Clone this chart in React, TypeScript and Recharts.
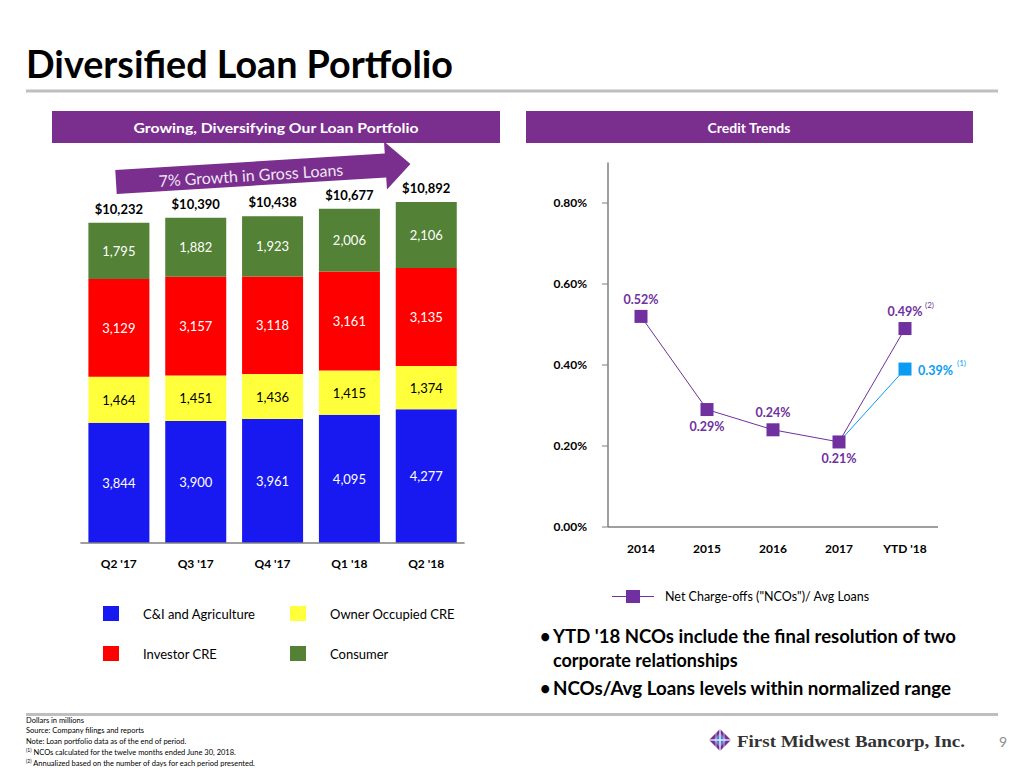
import React from 'react';
import { BarChart, Bar, XAxis, YAxis, LabelList, LineChart, Line } from 'recharts';

// ---------- Data ----------
const quarters = ["Q2 '17", "Q3 '17", "Q4 '17", "Q1 '18", "Q2 '18"];
const ciAgriculture = [3844, 3900, 3961, 4095, 4277];
const ownerOccupiedCRE = [1464, 1451, 1436, 1415, 1374];
const investorCRE = [3129, 3157, 3118, 3161, 3135];
const consumer = [1795, 1882, 1923, 2006, 2106];
const totalLoans = [10232, 10390, 10438, 10677, 10892];

const years = ['2014', '2015', '2016', '2017', "YTD '18"];
const ncoAnnualized = [0.52, 0.29, 0.24, 0.21, 0.49];
const ncoTrailing12 = [null, null, null, 0.21, 0.39];
const pctTicks = [0, 0.2, 0.4, 0.6, 0.8];

const barData = quarters.map((q, i) => ({
  q,
  ci: ciAgriculture[i],
  oo: ownerOccupiedCRE[i],
  inv: investorCRE[i],
  con: consumer[i],
  total: totalLoans[i],
}));

const lineData = years.map((y, i) => ({
  y,
  nco: ncoAnnualized[i],
  ttm: ncoTrailing12[i],
}));

// ---------- Styles ----------
const FONT = 'Lato, "Open Sans", sans-serif';
const PURPLE_BAR = '#7A2E8E';
const PURPLE = '#7030A0';
const BLUE_LT = '#0A9CF2';
const C_BLUE = '#1818F0';
const C_YELLOW = '#FFFF3C';
const C_RED = '#FF0000';
const C_GREEN = '#538135';
const AXIS_GRAY = '#7F7F7F';

const box = (p: any) => ({
  x: p.viewBox?.x ?? p.x,
  y: p.viewBox?.y ?? p.y,
  width: p.viewBox?.width ?? p.width ?? 0,
  height: p.viewBox?.height ?? p.height ?? 0,
});

const fmt = (v: number) => v.toLocaleString('en-US');

const segLabel = (color: string) => (p: any) => {
  const b = box(p);
  return (
    <text
      x={b.x + b.width / 2}
      y={b.y + b.height / 2}
      textAnchor="middle"
      dominantBaseline="central"
      fill={color}
      fontSize={13}
      fontFamily={FONT}
    >
      {fmt(Number(p.value))}
    </text>
  );
};

const totalLabel = (p: any) => {
  const b = box(p);
  return (
    <text
      x={b.x + b.width / 2}
      y={b.y - 14}
      textAnchor="middle"
      dominantBaseline="central"
      fill="#000"
      fontSize={13}
      fontWeight={700}
      fontFamily={FONT}
    >
      {'$' + fmt(Number(p.value))}
    </text>
  );
};

const ncoLabelSide = [-1, 1, -1, 1, -1];
const ncoLabelFootnote = ['', '', '', '', '(2)'];

const ncoLabel = (p: any) => {
  const b = box(p);
  const i = p.index ?? ncoAnnualized.indexOf(Number(p.value));
  const ly = b.y + ncoLabelSide[i] * 17;
  const note = ncoLabelFootnote[i];
  return (
    <g>
      <text
        x={b.x}
        y={ly}
        textAnchor="middle"
        dominantBaseline="central"
        fill={PURPLE}
        fontSize={12.5}
        fontWeight={700}
        fontFamily={FONT}
      >
        {Number(p.value).toFixed(2) + '%'}
      </text>
      {note ? (
        <text x={b.x + 20} y={ly - 7} dominantBaseline="central" fill={PURPLE} fontSize={8} fontFamily={FONT}>
          {note}
        </text>
      ) : null}
    </g>
  );
};

const ttmLabel = (p: any) => {
  const b = box(p);
  const i = p.index ?? ncoTrailing12.indexOf(Number(p.value));
  if (i !== ncoTrailing12.length - 1 || p.value == null) return <g />;
  return (
    <g>
      <text
        x={b.x + 13}
        y={b.y + 1}
        dominantBaseline="central"
        fill={BLUE_LT}
        fontSize={12.5}
        fontWeight={700}
        fontFamily={FONT}
      >
        {Number(p.value).toFixed(2) + '%'}
      </text>
      <text x={b.x + 52} y={b.y - 6} dominantBaseline="central" fill={BLUE_LT} fontSize={8} fontFamily={FONT}>
        (1)
      </text>
    </g>
  );
};

const squareDot = (color: string, onlyLast: boolean) => (p: any) => {
  const { cx, cy, index } = p;
  if (cx == null || cy == null || (onlyLast && index !== years.length - 1)) {
    return <g key={`d-${color}-${index}`} />;
  }
  return <rect key={`d-${color}-${index}`} x={cx - 6.5} y={cy - 6.5} width={13} height={13} fill={color} />;
};

const barLegend = [
  { label: 'C&I and Agriculture', color: C_BLUE, x: 103, y: 606 },
  { label: 'Owner Occupied CRE', color: C_YELLOW, x: 290, y: 606 },
  { label: 'Investor CRE', color: C_RED, x: 103, y: 646 },
  { label: 'Consumer', color: C_GREEN, x: 290, y: 646 },
];

export default function App() {
  const arrowAngle = -3.5;
  return (
    <div
      style={{
        position: 'absolute',
        left: 0,
        top: 0,
        width: 1024,
        height: 768,
        background: '#fff',
        overflow: 'hidden',
        fontFamily: FONT,
      }}
    >
      <svg width={1024} height={768} style={{ position: 'absolute', left: 0, top: 0 }} fontFamily={FONT}>
        {/* Title */}
        <text x={26} y={78} fontSize={38} fontWeight={700} fill="#000" textLength={427} lengthAdjust="spacingAndGlyphs">
          Diversified Loan Portfolio
        </text>
        <rect x={26} y={89.5} width={972} height={3} fill="#BFBFBF" />

        {/* Section headers */}
        <rect x={52} y={111} width={448} height={32} fill={PURPLE_BAR} />
        <text x={276} y={127} textAnchor="middle" dominantBaseline="central" fill="#fff" fontSize={14} fontWeight={700} textLength={285} lengthAdjust="spacingAndGlyphs">
          Growing, Diversifying Our Loan Portfolio
        </text>
        <rect x={526} y={111} width={447} height={32} fill={PURPLE_BAR} />
        <text x={749} y={127} textAnchor="middle" dominantBaseline="central" fill="#fff" fontSize={14} fontWeight={700}>
          Credit Trends
        </text>

        {/* Growth arrow */}
        <g transform={`rotate(${arrowAngle} 116 182)`}>
          <polygon
            points="116,170 386,170 386,158 411,182 386,206 386,194 116,194"
            fill={PURPLE_BAR}
          />
          <text x={251} y={183} textAnchor="middle" dominantBaseline="central" fill="#EFE6F4" fontSize={16}>
            7% Growth in Gross Loans
          </text>
        </g>

        {/* Bar legend */}
        {barLegend.map((l) => (
          <g key={l.label}>
            <rect x={l.x} y={l.y} width={16} height={15} fill={l.color} />
            <text x={l.x + 40} y={l.y + 7.5} dominantBaseline="central" fontSize={13} fill="#000">
              {l.label}
            </text>
          </g>
        ))}

        {/* Line legend */}
        <line x1={612} y1={596.5} x2={654} y2={596.5} stroke={PURPLE} strokeWidth={1.2} />
        <rect x={626} y={590} width={14} height={13} fill={PURPLE} />
        <text x={665} y={596.5} dominantBaseline="central" fontSize={12.5} fill="#000">
          Net Charge-offs ("NCOs")/ Avg Loans
        </text>

        {/* Bullets */}
        <g fontSize={18} fontWeight={700} fill="#000">
          <text x={540} y={643}>•</text>
          <text x={553} y={643} textLength={403} lengthAdjust="spacingAndGlyphs">
            YTD '18 NCOs include the final resolution of two
          </text>
          <text x={553} y={667}>corporate relationships</text>
          <text x={540} y={695}>•</text>
          <text x={553} y={695} textLength={398} lengthAdjust="spacingAndGlyphs">
            NCOs/Avg Loans levels within normalized range
          </text>
        </g>

        {/* Bottom rule + footnotes */}
        <rect x={26} y={713} width={972} height={3} fill="#BFBFBF" />
        <g fontSize={7.5} fill="#000">
          <text x={26} y={723}>Dollars in millions</text>
          <text x={26} y={733}>Source: Company filings and reports</text>
          <text x={26} y={744}>Note: Loan portfolio data as of the end of period.</text>
          <text x={26} y={755}>
            <tspan fontSize={5} dy={-3}>(1)</tspan>
            <tspan dy={3}> NCOs calculated for the twelve months ended June 30, 2018.</tspan>
          </text>
          <text x={26} y={766}>
            <tspan fontSize={5} dy={-3}>(2)</tspan>
            <tspan dy={3}> Annualized based on the number of days for each period presented.</tspan>
          </text>
        </g>

        {/* Logo */}
        <g>
          <polygon points="720,729 731,740 720,751 709,740" fill="#7A2E8E" />
          <polygon points="720,733 727,740 720,747 713,740" fill="#5B7FD6" />
          <line x1={720} y1={729} x2={720} y2={751} stroke="#fff" strokeWidth={1.2} />
          <line x1={709} y1={740} x2={731} y2={740} stroke="#fff" strokeWidth={1.2} />
          <line x1={716} y1={731} x2={716} y2={749} stroke="#fff" strokeWidth={0.6} />
          <line x1={724} y1={731} x2={724} y2={749} stroke="#fff" strokeWidth={0.6} />
        </g>
        <text x={737} y={747} fontSize={17} fontWeight={700} fill="#333" fontFamily='"Liberation Serif", "DejaVu Serif", serif' textLength={228} lengthAdjust="spacingAndGlyphs">
          First Midwest Bancorp, Inc.
        </text>
        <text x={999} y={747} fontSize={14} fill="#8C8C8C">9</text>
      </svg>

      {/* Stacked bar chart */}
      <div style={{ position: 'absolute', left: 40, top: 150 }}>
        <BarChart
          width={440}
          height={430}
          data={barData}
          margin={{ top: 17.4, right: 15.4, bottom: 7, left: 40.4 }}
        >
          <XAxis
            dataKey="q"
            axisLine={{ stroke: AXIS_GRAY, strokeWidth: 1.5 }}
            tickLine={false}
            tickMargin={10}
            height={30}
            interval={0}
            tick={{ fontSize: 12, fontWeight: 700, fill: '#000', fontFamily: FONT }}
          />
          <YAxis hide domain={[0, 12000]} allowDataOverflow />
          <Bar dataKey="ci" stackId="loans" fill={C_BLUE} barSize={61} isAnimationActive={false}>
            <LabelList dataKey="ci" content={segLabel('#fff')} />
          </Bar>
          <Bar dataKey="oo" stackId="loans" fill={C_YELLOW} barSize={61} isAnimationActive={false}>
            <LabelList dataKey="oo" content={segLabel('#000')} />
          </Bar>
          <Bar dataKey="inv" stackId="loans" fill={C_RED} barSize={61} isAnimationActive={false}>
            <LabelList dataKey="inv" content={segLabel('#fff')} />
          </Bar>
          <Bar dataKey="con" stackId="loans" fill={C_GREEN} barSize={61} isAnimationActive={false}>
            <LabelList dataKey="con" content={segLabel('#fff')} />
            <LabelList dataKey="total" content={totalLabel} />
          </Bar>
        </BarChart>
      </div>

      {/* Credit trends line chart */}
      <div style={{ position: 'absolute', left: 520, top: 140 }}>
        <LineChart
          width={460}
          height={420}
          data={lineData}
          margin={{ top: 22.5, right: 42, bottom: 3, left: 28 }}
        >
          <XAxis
            dataKey="y"
            padding={{ left: 33, right: 33 }}
            axisLine={{ stroke: AXIS_GRAY, strokeWidth: 1.5 }}
            tickLine={false}
            tickMargin={11}
            height={30}
            interval={0}
            tick={{ fontSize: 12, fontWeight: 700, fill: '#000', fontFamily: FONT }}
          />
          <YAxis
            domain={[0, 0.9]}
            ticks={pctTicks}
            allowDataOverflow
            width={60}
            tickSize={6}
            tickMargin={15}
            axisLine={{ stroke: AXIS_GRAY, strokeWidth: 1.5 }}
            tickLine={{ stroke: AXIS_GRAY }}
            tickFormatter={(v: number) => v.toFixed(2) + '%'}
            tick={{ fontSize: 12, fontWeight: 700, fill: '#000', fontFamily: FONT }}
          />
          <Line
            dataKey="ttm"
            stroke={BLUE_LT}
            strokeWidth={1}
            dot={squareDot(BLUE_LT, true)}
            activeDot={false}
            isAnimationActive={false}
          >
            <LabelList dataKey="ttm" content={ttmLabel} />
          </Line>
          <Line
            dataKey="nco"
            stroke={PURPLE}
            strokeWidth={1}
            dot={squareDot(PURPLE, false)}
            activeDot={false}
            isAnimationActive={false}
          >
            <LabelList dataKey="nco" content={ncoLabel} />
          </Line>
        </LineChart>
      </div>
    </div>
  );
}
